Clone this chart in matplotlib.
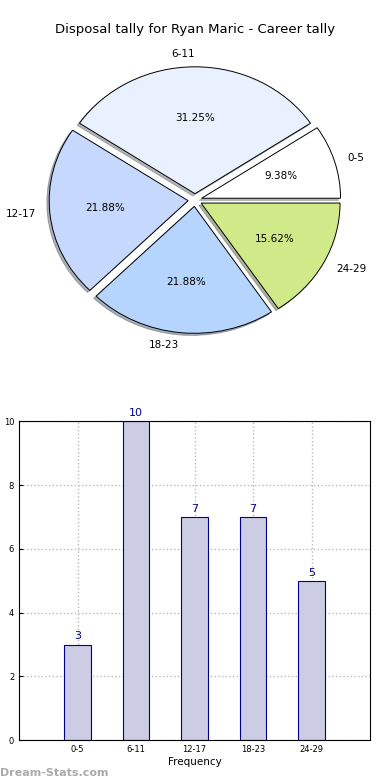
import matplotlib
matplotlib.use('Agg')
import matplotlib.pyplot as plt
import numpy as np

plt.rcParams['font.family'] = ['DejaVu Sans']

# data
groups = ['0-5', '6-11', '12-17', '18-23', '24-29']
tally = [3, 10, 7, 7, 5]
pie_colors = ['#FFFFFF', '#EAF1FE', '#C6D8FE', '#B5D5FE', '#D0EA8A']

fig = plt.figure(figsize=(3.9, 7.8), dpi=100)

# pie on top
ax1 = fig.add_axes([0.037, 0.532, 0.926, 0.423])
wedges, texts, autotexts = ax1.pie(tally, labels=groups, colors=pie_colors,
                                   explode=[0.05] * 5,
                                   shadow={'ox': -0.012, 'oy': -0.012, 'shade': 0.55},
                                   autopct='%1.2f%%',
                                   startangle=0, labeldistance=1.1,
                                   wedgeprops={'edgecolor': 'black', 'linewidth': 0.7},
                                   textprops={'fontsize': 7.5})
ax1.set_aspect('auto')
ax1.set_xlim(-1.3, 1.3)
ax1.set_ylim(-1.3, 1.3)
fig.text(0.5, 1 - 30 / 780., 'Disposal tally for Ryan Maric - Career tally',
         ha='center', va='center', fontsize=9.5)

# bars below
ax2 = fig.add_axes([0.049, 0.051, 0.9, 0.409])
x = np.arange(len(groups))
ax2.bar(x, tally, width=0.45, color='#CCCCE5', edgecolor='#000088', linewidth=0.8, zorder=2)
for xi, v in zip(x, tally):
    ax2.text(xi, v + 0.1, str(v), ha='center', va='bottom', color='#000088', fontsize=8)
ax2.set_xlim(-1, 5)
ax2.set_ylim(0, 10)
ax2.set_xticks(x)
ax2.set_xticklabels(groups, fontsize=6)
ax2.set_yticks([0, 2, 4, 6, 8, 10])
ax2.tick_params(axis='y', labelsize=6)
ax2.tick_params(direction='in', length=3)
ax2.grid(True, linestyle=':', color='#bbbbbb', linewidth=1, zorder=0)
ax2.set_axisbelow(True)
ax2.set_xlabel('Frequency', fontsize=7.5, labelpad=2)
ax2.set_ylabel('Disposal Tally', fontsize=7.5, labelpad=4)

fig.text(0.0, 0.003, 'Dream-Stats.com', color='#aaaaaa', fontsize=8, fontweight='semibold',
         ha='left', va='bottom')

plt.savefig('out.png', dpi=100)
